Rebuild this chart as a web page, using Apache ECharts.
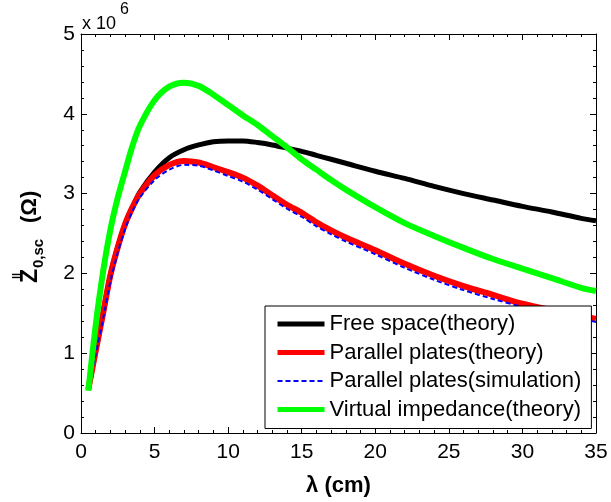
<!DOCTYPE html>
<html>
<head>
<meta charset="utf-8">
<script src="https://cdn.jsdelivr.net/npm/echarts@6/dist/echarts.min.js"></script>
<style>
html,body{margin:0;padding:0;background:#fff;}
#chart{width:611px;height:502px;}
</style>
</head>
<body>
<div id="chart"></div>
<script>
// wavelength (cm)
var lambda = [0.5,1,1.5,2,2.5,3,3.5,4,5,6,7,8,9,10,11,12,13,14,15,16,17,18,20,22,24,26,28,30,32,34,35];
// impedance values in units of 10^6 Ohm
var freeSpaceTheory = [0.55,1.03,1.5,1.98,2.33,2.62,2.83,3.02,3.27,3.45,3.55,3.61,3.65,3.66,3.66,3.64,3.61,3.57,3.53,3.48,3.43,3.38,3.28,3.19,3.09,3.0,2.92,2.84,2.77,2.69,2.66];
var parallelTheory = [0.55,1.03,1.5,1.98,2.33,2.62,2.83,3.0,3.23,3.36,3.41,3.39,3.33,3.27,3.2,3.1,2.98,2.86,2.76,2.64,2.54,2.45,2.29,2.12,1.97,1.84,1.73,1.62,1.54,1.47,1.43];
var parallelSim = [0.55,0.99,1.43,1.9,2.26,2.56,2.78,2.95,3.17,3.3,3.36,3.35,3.29,3.22,3.15,3.05,2.93,2.81,2.71,2.59,2.49,2.4,2.24,2.07,1.92,1.79,1.68,1.58,1.5,1.43,1.39];
var virtualTheory = [0.53,1.35,2.02,2.55,2.95,3.28,3.6,3.85,4.17,4.34,4.39,4.35,4.24,4.11,3.98,3.86,3.72,3.58,3.43,3.3,3.17,3.05,2.83,2.63,2.47,2.32,2.18,2.06,1.94,1.82,1.78];
var seriesNames = ['Free space(theory)','Parallel plates(theory)','Parallel plates(simulation)','Virtual impedance(theory)'];
var xTicks = [0,35,5];
var yTicks = [0,5,1];

function pairs(ys){ return lambda.map(function(x,i){ return [x, ys[i]]; }); }

var FONT = '"Liberation Sans", Arial, sans-serif';
var chart = echarts.init(document.getElementById('chart'), null, {renderer:'canvas'});

function axisCommon(extra){
  var base = {
    type:'value',
    axisLine:{show:true, onZero:false, lineStyle:{color:'#000', width:1}},
    axisTick:{show:true, inside:true, length:6, lineStyle:{color:'#000'}},
    minorTick:{show:true, splitNumber:5, length:3, lineStyle:{color:'#000'}},
    splitLine:{show:false},
    minorSplitLine:{show:false}
  };
  for (var k in extra) base[k] = extra[k];
  return base;
}

var option = {
  animation:false,
  backgroundColor:'#fff',
  grid:{left:81, right:15, top:34, bottom:67, containLabel:false},
  xAxis:[
    axisCommon({position:'bottom', min:xTicks[0], max:xTicks[1], interval:xTicks[2],
      axisLabel:{show:true, color:'#000', fontSize:21, fontFamily:FONT, margin:9},
      name:'λ (cm)', nameLocation:'middle', nameGap:42,
      nameTextStyle:{color:'#000', fontSize:22, fontWeight:'bold', fontFamily:FONT}}),
    axisCommon({position:'top', min:xTicks[0], max:xTicks[1], interval:xTicks[2],
      axisLabel:{show:false}})
  ],
  yAxis:[
    axisCommon({position:'left', min:yTicks[0], max:yTicks[1], interval:yTicks[2],
      axisLabel:{show:true, color:'#000', fontSize:21, fontFamily:FONT, margin:6}}),
    axisCommon({position:'right', min:yTicks[0], max:yTicks[1], interval:yTicks[2],
      axisLabel:{show:false}})
  ],
  legend:{
    orient:'vertical', left:265, top:306,
    backgroundColor:'#fff', borderColor:'#000', borderWidth:1, borderRadius:0,
    padding:[7,10,8,10], itemGap:6.5, itemWidth:47, itemHeight:14,
    textStyle:{color:'#000', fontSize:22, fontFamily:FONT},
    itemStyle:{opacity:0},
    data:[
      {name:seriesNames[0], itemStyle:{opacity:0}, lineStyle:{color:'#000', width:5}},
      {name:seriesNames[1], itemStyle:{opacity:0}, lineStyle:{color:'#ff0000', width:5}},
      {name:seriesNames[2], itemStyle:{opacity:0}, lineStyle:{color:'#0000ff', width:2, type:[5,3]}},
      {name:seriesNames[3], itemStyle:{opacity:0}, lineStyle:{color:'#00ff00', width:5}}
    ]
  },
  series:[
    {name:seriesNames[0], type:'line', data:pairs(freeSpaceTheory), symbol:'none', smooth:0.3,
      lineStyle:{color:'#000', width:5}, itemStyle:{color:'#000'}},
    {name:seriesNames[1], type:'line', data:pairs(parallelTheory), symbol:'none', smooth:0.3,
      lineStyle:{color:'#ff0000', width:6}, itemStyle:{color:'#ff0000'}},
    {name:seriesNames[2], type:'line', data:pairs(parallelSim), symbol:'none', smooth:0.3,
      lineStyle:{color:'#0000ff', width:2, type:[5,3]}, itemStyle:{color:'#0000ff'}},
    {name:seriesNames[3], type:'line', data:pairs(virtualTheory), symbol:'none', smooth:0.3,
      lineStyle:{color:'#00ff00', width:6}, itemStyle:{color:'#00ff00'}}
  ],
  graphic:[
    {type:'text', left:82, top:15, style:{text:'x 10', font:'18px ' + FONT, fill:'#000'}},
    {type:'text', left:120, top:2, style:{text:'6', font:'16px ' + FONT, fill:'#000'}},
    {type:'group', x:19, y:283, rotation:Math.PI/2, children:[
      {type:'text', x:0, y:0, style:{text:'Z', font:'bold 23px ' + FONT, fill:'#000', verticalAlign:'top', textVerticalAlign:'top', align:'left'}},
      {type:'text', x:4, y:-8, style:{text:'||', font:'bold 11px ' + FONT, fill:'#000', verticalAlign:'top', textVerticalAlign:'top', align:'left'}},
      {type:'text', x:15, y:12, style:{text:'0,sc', font:'bold 15px ' + FONT, fill:'#000', verticalAlign:'top', textVerticalAlign:'top', align:'left'}},
      {type:'text', x:60, y:0, style:{text:'(Ω)', font:'bold 22px ' + FONT, fill:'#000', verticalAlign:'top', textVerticalAlign:'top', align:'left'}}
    ]}
  ]
};
chart.setOption(option);
</script>
</body>
</html>
